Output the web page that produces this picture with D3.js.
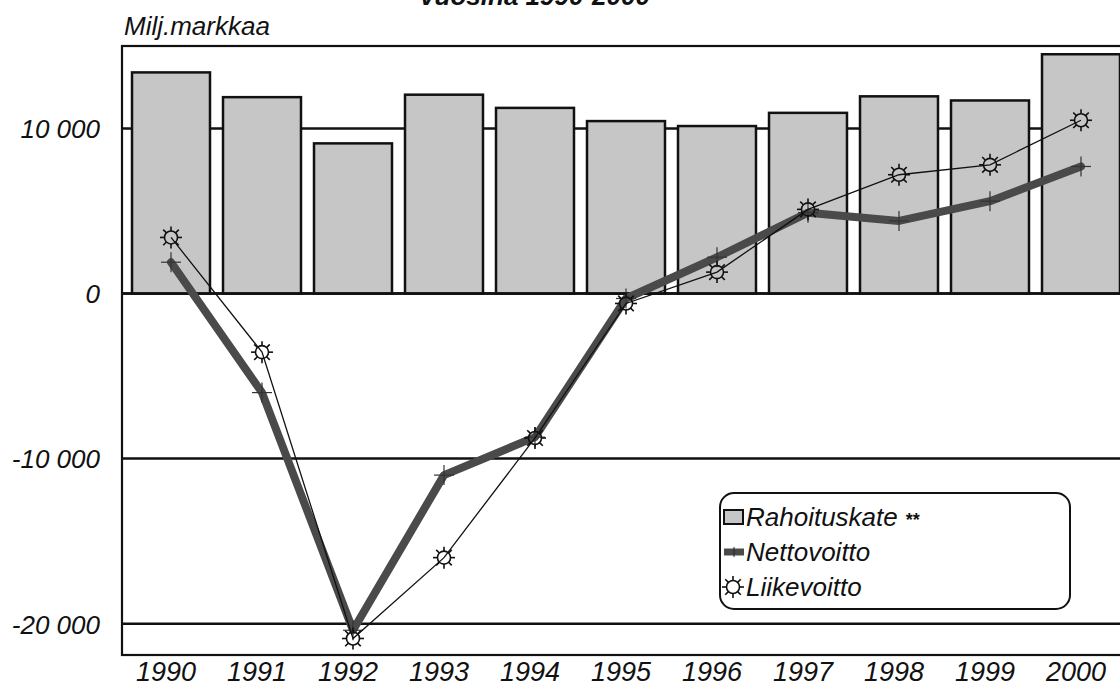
<!DOCTYPE html>
<html>
<head>
<meta charset="utf-8">
<script src="https://d3js.org/d3.v7.min.js"></script>
<style>
  body { margin: 0; background: #fff; }
  svg text { font-family: "Liberation Sans", Arial, sans-serif; font-style: italic; fill: #111; }
</style>
</head>
<body>
<script>
// data (millions of marks)
var years = ["1990", "1991", "1992", "1993", "1994", "1995", "1996", "1997", "1998", "1999", "2000"];
var rahoituskate = [13400, 11900, 9100, 12050, 11250, 10450, 10150, 10950, 11950, 11700, 14500];
var nettovoitto = [1900, -6000, -20400, -11000, -8700, -300, 2200, 4900, 4400, 5600, 7700];
var liikevoitto = [3400, -3550, -20900, -16000, -8750, -600, 1300, 5100, 7200, 7800, 10500];
var yTicks = [10000, 0, -10000, -20000];
var seriesNames = ["Rahoituskate **", "Nettovoitto", "Liikevoitto"];

var width = 1120, height = 700;
// plot frame
var pL = 122, pT = 46, pB = 655, pR = 1132;

var svg = d3.select("body").append("svg").attr("width", width).attr("height", height);

var x = d3.scaleBand().domain(years).range([125.5, 1126.5]).paddingInner(0.143).paddingOuter(0.0715);
var y = d3.scaleLinear().domain([-21900, 15000]).range([pB, pT]);
var cx = function(d, i) { return x(years[i]) + x.bandwidth() / 2; };

var fi = d3.formatLocale({decimal: ",", thousands: " ", grouping: [3], currency: ["", ""], minus: "-"});
var fmt = fi.format(",d");

// title, mostly cut off at the top
svg.append("text").attr("x", 535).attr("y", 5).attr("text-anchor", "middle")
  .style("font-size", "26px").style("font-weight", "bold").text("vuosina 1990-2000");

svg.append("text").attr("x", 124).attr("y", 35).style("font-size", "26px").text("Milj.markkaa");

// plot background
svg.append("rect").attr("x", pL).attr("y", pT).attr("width", pR - pL).attr("height", pB - pT)
  .attr("fill", "#fff");

// gridlines
svg.selectAll(".grid").data(yTicks).enter().append("line").attr("class", "grid")
  .attr("x1", pL).attr("x2", pR)
  .attr("y1", function(d) { return y(d); }).attr("y2", function(d) { return y(d); })
  .attr("stroke", "#111").attr("stroke-width", 2.5);

// bars
svg.selectAll(".bar").data(rahoituskate).enter().append("rect").attr("class", "bar")
  .attr("x", function(d, i) { return x(years[i]); })
  .attr("y", function(d) { return y(d); })
  .attr("width", x.bandwidth())
  .attr("height", function(d) { return y(0) - y(d); })
  .attr("fill", "#c6c6c6").attr("stroke", "#111").attr("stroke-width", 2.5);

// zero line over bar bottoms
svg.append("line").attr("x1", pL).attr("x2", pR).attr("y1", y(0)).attr("y2", y(0))
  .attr("stroke", "#111").attr("stroke-width", 2.5);

// frame
svg.append("rect").attr("x", pL).attr("y", pT).attr("width", pR - pL).attr("height", pB - pT)
  .attr("fill", "none").attr("stroke", "#111").attr("stroke-width", 2.2);

// axes
var yAxis = svg.append("g").attr("transform", "translate(" + pL + ",0)")
  .call(d3.axisLeft(y).tickValues(yTicks).tickFormat(fmt).tickSize(0).tickPadding(22));
yAxis.select(".domain").remove();
yAxis.selectAll("text").style("font-size", "26px").attr("dy", "0.36em");

var xAxis = svg.append("g").attr("transform", "translate(0," + pB + ")")
  .call(d3.axisBottom(x).tickSize(0).tickPadding(7));
xAxis.select(".domain").remove();
xAxis.selectAll("text").style("font-size", "27px").attr("dx", -5);

// nettovoitto: thick grey line with crosshair ticks
var line = d3.line().x(cx).y(function(d) { return y(d); });
svg.append("path").datum(nettovoitto).attr("d", line)
  .attr("fill", "none").attr("stroke", "#4a4a4a").attr("stroke-width", 8)
  .attr("stroke-linejoin", "round").attr("stroke-linecap", "round");

var ticks = svg.selectAll(".nt").data(nettovoitto).enter().append("g").attr("class", "nt")
  .attr("transform", function(d, i) { return "translate(" + cx(d, i) + "," + y(d) + ")"; });
ticks.append("line").attr("x1", -10).attr("x2", 10).attr("stroke", "#333").attr("stroke-width", 1.2);
ticks.append("line").attr("y1", -10).attr("y2", 10).attr("stroke", "#333").attr("stroke-width", 1.2);

// liikevoitto: thin line with sun markers
svg.append("path").datum(liikevoitto).attr("d", line)
  .attr("fill", "none").attr("stroke", "#111").attr("stroke-width", 1.3);

function sun(g) {
  g.append("circle").attr("r", 6.5).attr("fill", "none").attr("stroke", "#111").attr("stroke-width", 1.6);
  g.selectAll(".ray").data(d3.range(8)).enter().append("line")
    .attr("x1", function(k) { return 6.5 * Math.cos(k * Math.PI / 4); })
    .attr("y1", function(k) { return 6.5 * Math.sin(k * Math.PI / 4); })
    .attr("x2", function(k) { return 11 * Math.cos(k * Math.PI / 4); })
    .attr("y2", function(k) { return 11 * Math.sin(k * Math.PI / 4); })
    .attr("stroke", "#111").attr("stroke-width", 1.6);
}

svg.selectAll(".sun").data(liikevoitto).enter().append("g").attr("class", "sun")
  .attr("transform", function(d, i) { return "translate(" + cx(d, i) + "," + y(d) + ")"; })
  .each(function() { sun(d3.select(this)); });

// legend
var lg = svg.append("g").attr("transform", "translate(720,493)");
lg.append("rect").attr("width", 350).attr("height", 116).attr("rx", 14)
  .attr("fill", "#fff").attr("stroke", "#111").attr("stroke-width", 2);

var rows = lg.selectAll(".row").data(seriesNames).enter().append("g").attr("class", "row")
  .attr("transform", function(d, i) { return "translate(0," + (24 + i * 35) + ")"; });

rows.append("text").attr("x", 26).attr("dy", "0.36em").style("font-size", "26px")
  .text(function(d) { return d.replace(" **", ""); })
  .append("tspan").style("font-weight", "bold").style("font-style", "normal").style("font-size", "18px")
  .attr("dx", 8).text(function(d) { return d.indexOf("**") > 0 ? "**" : ""; });

rows.filter(function(d, i) { return i == 0; }).append("rect")
  .attr("x", 4).attr("y", -7).attr("width", 19).attr("height", 14)
  .attr("fill", "#c6c6c6").attr("stroke", "#111").attr("stroke-width", 2);

var nl = rows.filter(function(d, i) { return i == 1; });
nl.append("line").attr("x1", 4).attr("x2", 24).attr("stroke", "#4a4a4a").attr("stroke-width", 7);
nl.append("line").attr("x1", 14).attr("x2", 14).attr("y1", -5).attr("y2", 5).attr("stroke", "#222").attr("stroke-width", 1);

rows.filter(function(d, i) { return i == 2; }).append("g").attr("transform", "translate(13,0)")
  .each(function() { sun(d3.select(this)); });
</script>
</body>
</html>
